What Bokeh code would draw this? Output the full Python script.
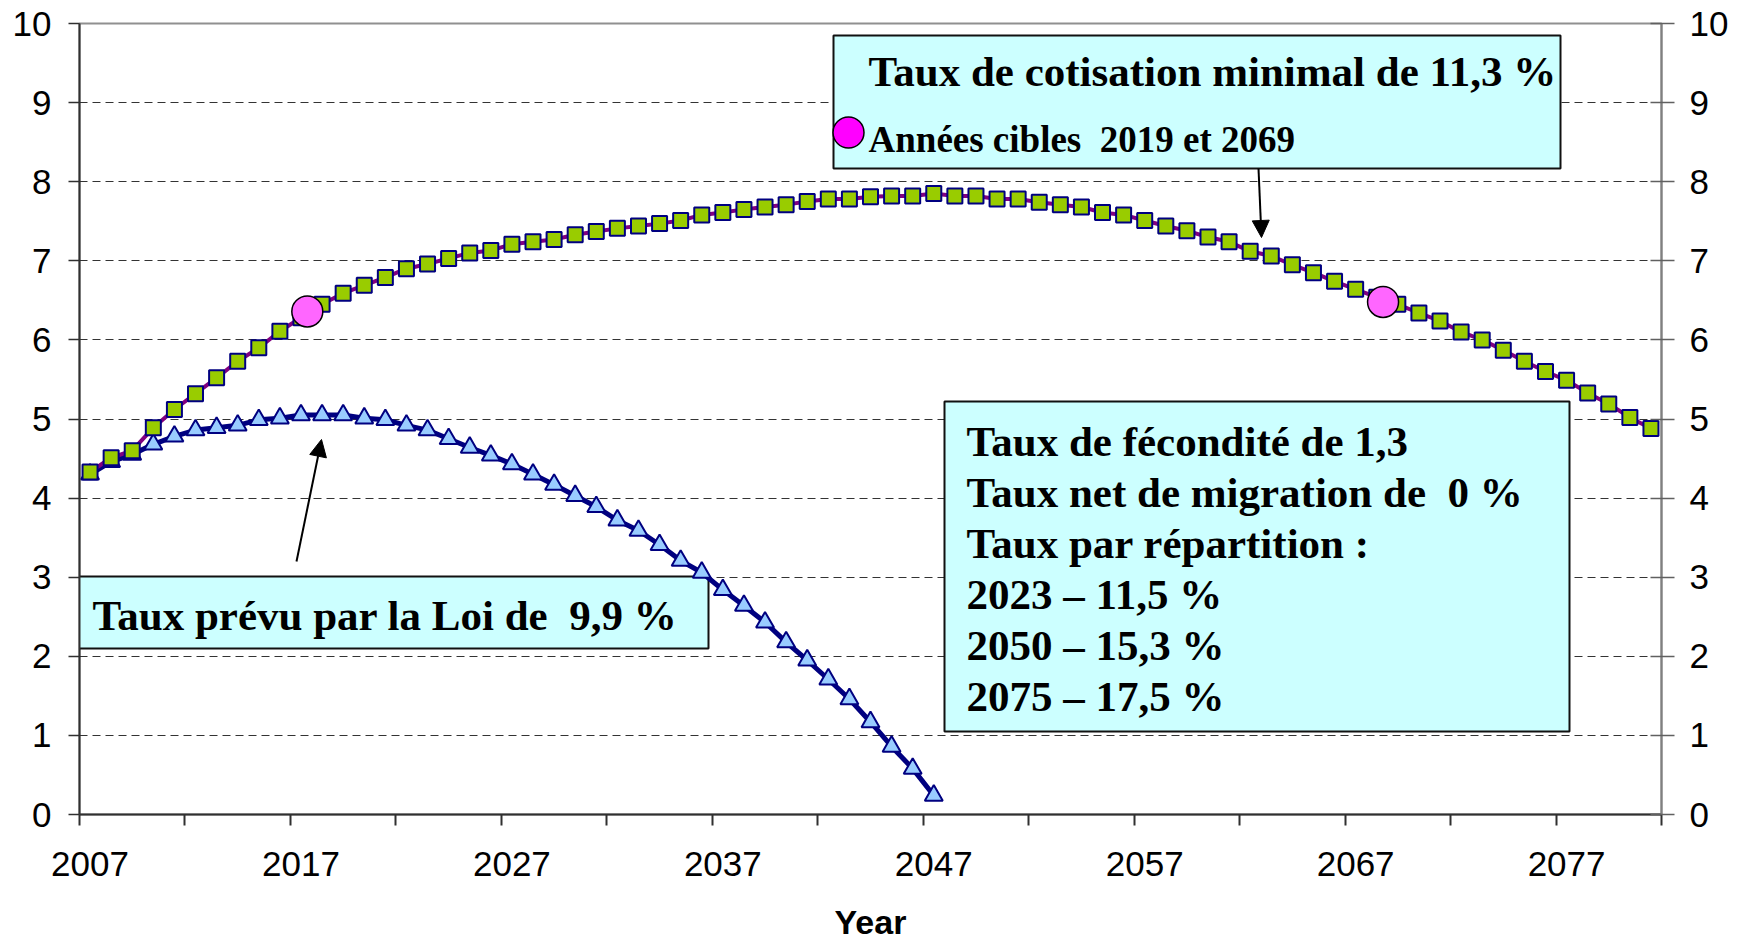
from bokeh.plotting import figure
from bokeh.models import (Range1d, LinearAxis, FixedTicker, BoxAnnotation, Label,
                          Arrow, NormalHead)
from bokeh.embed import file_html
from bokeh.resources import INLINE

# ---------------- data ----------------
years = list(range(2007, 2082))
taux_minimal = [4.33, 4.51, 4.60, 4.89, 5.12, 5.32, 5.52, 5.73, 5.90, 6.11,
                6.28, 6.45, 6.59, 6.69, 6.79, 6.90, 6.96, 7.03, 7.10, 7.13,
                7.21, 7.24, 7.27, 7.33, 7.37, 7.41, 7.44, 7.47, 7.51, 7.58,
                7.61, 7.65, 7.68, 7.71, 7.75, 7.78, 7.78, 7.81, 7.82, 7.82,
                7.85, 7.82, 7.82, 7.78, 7.78, 7.74, 7.71, 7.68, 7.61, 7.58,
                7.51, 7.44, 7.38, 7.30, 7.24, 7.12, 7.06, 6.95, 6.85, 6.74,
                6.64, 6.54, 6.45, 6.34, 6.24, 6.10, 6.00, 5.87, 5.73, 5.60,
                5.49, 5.33, 5.19, 5.02, 4.88]
years_loi = list(range(2007, 2048))
taux_loi = [4.30, 4.46, 4.55, 4.68, 4.78, 4.86, 4.89, 4.92, 4.99, 5.01,
            5.05, 5.05, 5.05, 5.01, 4.99, 4.92, 4.86, 4.75, 4.64, 4.54,
            4.43, 4.30, 4.17, 4.03, 3.89, 3.72, 3.59, 3.41, 3.21, 3.06,
            2.84, 2.64, 2.43, 2.18, 1.95, 1.71, 1.46, 1.17, 0.86, 0.58, 0.24]
cible_years = [2017.3, 2068.3]
cible_values = [6.36, 6.48]
tick_years = [2007, 2017, 2027, 2037, 2047, 2057, 2067, 2077]
tick_labels = ["2007", "2017", "2027", "2037", "2047", "2057", "2067", "2077"]
y_ticks = list(range(0, 11))

# ---------------- layout helpers (page pixels -> data) ----------------
FR_L, FR_R, FR_T, FR_B = 79, 1661, 23, 814
X0, X1, Y0, Y1 = 2006.5, 2081.5, 0, 10


def dx(px):
    return X0 + (px - FR_L) * (X1 - X0) / (FR_R - FR_L)


def dy(py):
    return Y0 + (FR_B - py) * (Y1 - Y0) / (FR_B - FR_T)


W, H = 1746, 943
p = figure(width=W, height=H, output_backend="svg", toolbar_location=None,
           x_range=Range1d(X0, X1), y_range=Range1d(Y0, Y1),
           min_border_left=FR_L, min_border_top=FR_T,
           min_border_right=W - FR_R, min_border_bottom=H - FR_B)
p.outline_line_color = "#909090"
p.outline_line_width = 2
p.background_fill_color = "white"
p.border_fill_color = "white"

TICK_FONT = "Liberation Sans"
# x axis
xa = p.xaxis[0]
xa.ticker = FixedTicker(ticks=tick_years,
                        minor_ticks=[X0 + 5 * k for k in range(16)])
xa.major_label_overrides = {t: l for t, l in zip(tick_years, tick_labels)}
xa.major_tick_out = 11
xa.major_tick_in = 0
xa.major_tick_line_color = None
xa.minor_tick_out = 11
xa.minor_tick_in = 0
xa.minor_tick_line_color = "#303030"
xa.minor_tick_line_width = 2
xa.axis_line_color = "#303030"
xa.axis_line_width = 2
xa.major_label_text_font = TICK_FONT
xa.major_label_text_font_size = "35px"
xa.major_label_text_color = "black"
xa.major_label_standoff = 26
xa.axis_label = "Year"
xa.axis_label_text_font = TICK_FONT
xa.axis_label_text_font_style = "bold"
xa.axis_label_text_font_size = "34px"
xa.axis_label_text_color = "black"
xa.axis_label_text_line_height = 0.7
xa.axis_label_standoff = 24

# left y axis
ya = p.yaxis[0]
ya.ticker = FixedTicker(ticks=y_ticks)
ya.minor_tick_line_color = None
ya.major_tick_out = 11
ya.major_tick_in = 0
ya.major_tick_line_color = "#303030"
ya.major_tick_line_width = 1.5
ya.axis_line_color = "#303030"
ya.axis_line_width = 2
ya.major_label_text_font = TICK_FONT
ya.major_label_text_font_size = "35px"
ya.major_label_text_color = "black"
ya.major_label_standoff = 17

# right y axis
ra = LinearAxis(ticker=FixedTicker(ticks=y_ticks))
ra.minor_tick_line_color = None
ra.major_tick_out = 13
ra.major_tick_in = 11
ra.major_tick_line_color = "#606060"
ra.major_tick_line_width = 1.5
ra.axis_line_color = "#808080"
ra.axis_line_width = 2
ra.major_label_text_font = TICK_FONT
ra.major_label_text_font_size = "35px"
ra.major_label_text_color = "black"
ra.major_label_standoff = 15
p.add_layout(ra, "right")

p.xgrid.visible = False
p.ygrid.ticker = FixedTicker(ticks=y_ticks)
p.ygrid.grid_line_color = "#333333"
p.ygrid.grid_line_dash = "8 5"
p.ygrid.grid_line_width = 1

# ---------------- annotation boxes (under the glyphs, over the grid) ----------------
BOX = dict(fill_color="#CCFFFF", fill_alpha=1, line_color="#111111",
           line_alpha=1, line_width=2, level="underlay")
p.add_layout(BoxAnnotation(left=dx(833), right=dx(1560), top=dy(35), bottom=dy(168), **BOX))
p.add_layout(BoxAnnotation(left=dx(70), right=dx(708), top=dy(576), bottom=dy(648), **BOX))
p.add_layout(BoxAnnotation(left=dx(944), right=dx(1569), top=dy(401), bottom=dy(731), **BOX))

# ---------------- series ----------------
p.line(years_loi, taux_loi, line_color="#000080", line_width=5)
p.scatter(years_loi, taux_loi, marker="triangle", size=18,
          fill_color="#99CCFF", line_color="#000080", line_width=2)
p.line(years, taux_minimal, line_color="#800080", line_width=4)
p.scatter(years, taux_minimal, marker="square", size=15,
          fill_color="#99CC00", line_color="#000080", line_width=2)
p.scatter(cible_years, cible_values, marker="circle", size=31,
          fill_color="#FF66FF", line_color="black", line_width=1.5)

# ---------------- texts ----------------
NB = "\u00a0"
SERIF = dict(text_font="Liberation Serif", text_font_style="bold",
             text_color="black", text_baseline="alphabetic", text_align="left")
p.add_layout(Label(x=dx(868), y=dy(71), text="Taux de cotisation minimal de 11,3 %",
                   text_font_size="43px", **SERIF))
p.add_layout(Label(x=dx(868), y=dy(139), text="Années cibles" + NB + " 2019 et 2069",
                   text_font_size="37px", **SERIF))
p.scatter([dx(848)], [dy(132)], marker="circle", size=31,
          fill_color="#FF00FF", line_color="black", line_width=1.5)

p.add_layout(Label(x=dx(92), y=dy(615), text="Taux prévu par la Loi de" + NB + " 9,9 %",
                   text_font_size="43px", **SERIF))

box3_lines = ["Taux de fécondité de 1,3",
              "Taux net de migration de" + NB + " 0 %",
              "Taux par répartition :",
              "2023 – 11,5 %",
              "2050 – 15,3 %",
              "2075 – 17,5 %"]
for i, t in enumerate(box3_lines):
    p.add_layout(Label(x=dx(966), y=dy(441 + 51 * i), text=t,
                       text_font_size="43px", **SERIF))

# arrows
p.add_layout(Arrow(end=NormalHead(size=17, fill_color="black", line_color="black"),
                   x_start=dx(1258), y_start=dy(168), x_end=dx(1261), y_end=dy(237),
                   line_color="black", line_width=2))
p.add_layout(Arrow(end=NormalHead(size=17, fill_color="black", line_color="black"),
                   x_start=dx(296), y_start=dy(561), x_end=dx(321), y_end=dy(439),
                   line_color="black", line_width=2))

open("out.html", "w").write(file_html(p, INLINE))
